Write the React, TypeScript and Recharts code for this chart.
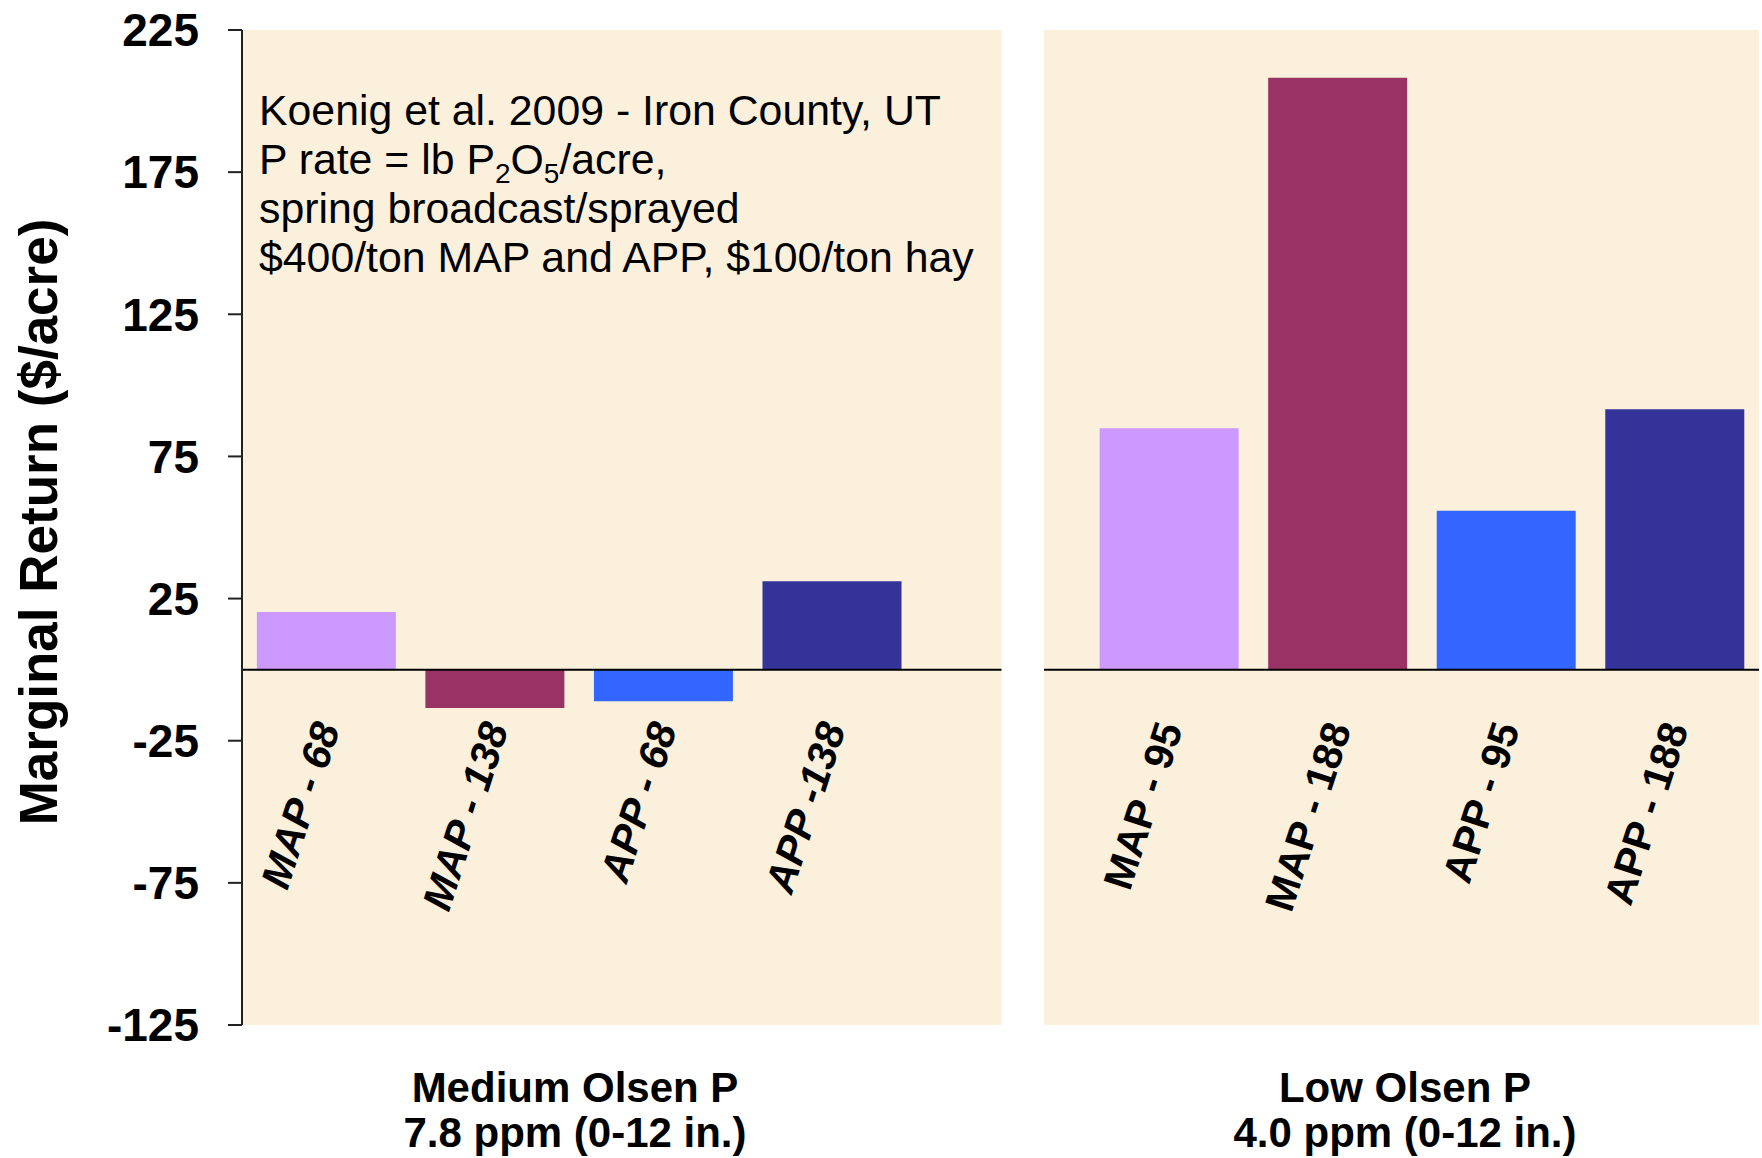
import React from "react";
import { BarChart, Bar, XAxis, YAxis, CartesianGrid, ReferenceLine, ReferenceArea, Cell } from "recharts";

// one chart, 9 slots: 4 medium-P treatments, an empty slot for the panel gap, 4 low-P treatments
const categories = ["MAP - 68", "MAP - 138", "APP - 68", "APP -138", "gap", "MAP - 95", "MAP - 188", "APP - 95", "APP - 188"];
const marginalReturn = [20.3, -13.5, -11.1, 31.1, null, 84.9, 208.2, 55.9, 91.6];
const barColors = ["#CC99FF", "#993366", "#3366FF", "#333399", "none", "#CC99FF", "#993366", "#3366FF", "#333399"];
const yTicks = [-125, -75, -25, 25, 75, 125, 175, 225];
const noteLines = ["Koenig et al. 2009 - Iron County, UT", "P rate = lb P2O5/acre,", "spring broadcast/sprayed", "$400/ton MAP and APP, $100/ton hay"];
const groupLabels = [
  ["Medium Olsen P", "7.8 ppm (0-12 in.)"],
  ["Low Olsen P", "4.0 ppm (0-12 in.)"],
];

const FONT = "'Liberation Sans', Arial, Helvetica, sans-serif";
const W = 1762;
const H = 1158;

const data = categories.map((name, i) => ({ name, value: marginalReturn[i] }));

function CategoryTick(props: any) {
  const { x, y, payload } = props;
  if (payload.value === "gap") return null;
  const italic = categories.indexOf(payload.value) < 4;
  // labels sit just under the zero line, end-anchored and tilted
  const ax = x + 14;
  const ay = y - 297;
  return (
    <text
      x={ax}
      y={ay}
      transform={`rotate(-72, ${ax}, ${ay})`}
      textAnchor="end"
      fontFamily={FONT}
      fontSize={41}
      fontWeight="bold"
      fontStyle={italic ? "italic" : "normal"}
      fill="#000"
    >
      {payload.value}
    </text>
  );
}

// white separator between the two panels, drawn inside the empty slot
function GapStrip(props: any) {
  const { x, y, width, height } = props;
  return <rect x={x + width * 0.506} y={y - 1} width={width * 0.252} height={height + 2} fill="#FFFFFF" />;
}

export default function App() {
  return (
    <div style={{ position: "relative", width: W, height: H, background: "#fff" }}>
      <style>{`body{margin:0}`}</style>
      <BarChart
        width={W}
        height={H}
        data={data}
        margin={{ top: 30, right: 3, left: 0, bottom: 103 }}
        barCategoryGap="8.8%"
      >
        <CartesianGrid horizontal={false} vertical={false} fill="#FBF0DC" stroke="none" />
        <XAxis
          dataKey="name"
          height={30}
          axisLine={false}
          tickLine={false}
          tickSize={0}
          tickMargin={0}
          interval={0}
          tick={<CategoryTick />}
        />
        <YAxis
          type="number"
          domain={[-125, 225]}
          ticks={yTicks}
          width={242}
          tickSize={14}
          tickMargin={29}
          axisLine={{ stroke: "#222", strokeWidth: 2 }}
          tickLine={{ stroke: "#222", strokeWidth: 2 }}
          tick={{ fontSize: 46, fontWeight: "bold", fill: "#000", fontFamily: FONT }}
        />
        <Bar dataKey="value" isAnimationActive={false}>
          {data.map((d, i) => (
            <Cell key={d.name} fill={barColors[i]} />
          ))}
        </Bar>
        <ReferenceLine y={0} stroke="#000" strokeWidth={2} zIndex={400} />
        <ReferenceArea x1="gap" x2="gap" shape={<GapStrip />} ifOverflow="visible" zIndex={450} />
      </BarChart>

      <svg width={W} height={H} style={{ position: "absolute", left: 0, top: 0, pointerEvents: "none" }}>
        <text
          x={57}
          y={522}
          transform="rotate(-90, 57, 522)"
          textAnchor="middle"
          fontFamily={FONT}
          fontSize={53}
          fontWeight="bold"
          fill="#000"
        >
          Marginal Return ($/acre)
        </text>

        <g fontFamily={FONT} fontSize={42.8} fill="#000">
          <text x={259} y={125}>{noteLines[0]}</text>
          <text x={259} y={174}>
            P rate = lb P
            <tspan fontSize={28} dy={9}>2</tspan>
            <tspan dy={-9}>O</tspan>
            <tspan fontSize={28} dy={9}>5</tspan>
            <tspan dy={-9}>/acre,</tspan>
          </text>
          <text x={259} y={223}>{noteLines[2]}</text>
          <text x={259} y={272}>{noteLines[3]}</text>
        </g>

        <g fontFamily={FONT} fontSize={42} fontWeight="bold" fill="#000" textAnchor="middle">
          <text x={575} y={1102}>{groupLabels[0][0]}</text>
          <text x={575} y={1147}>{groupLabels[0][1]}</text>
          <text x={1405} y={1102}>{groupLabels[1][0]}</text>
          <text x={1405} y={1147}>{groupLabels[1][1]}</text>
        </g>
      </svg>
    </div>
  );
}
